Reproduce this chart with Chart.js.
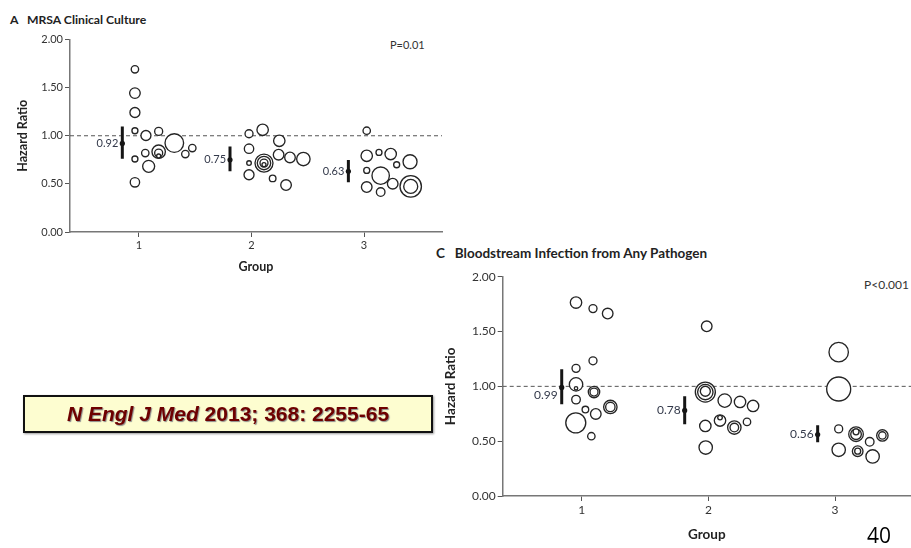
<!DOCTYPE html>
<html>
<head>
<meta charset="utf-8">
<script src="https://cdn.jsdelivr.net/npm/chart.js@4/dist/chart.umd.min.js"></script>
<style>
  html, body { margin: 0; padding: 0; background: #fff; }
  #page { position: relative; width: 911px; height: 548px; overflow: hidden; background: #fff; font-family: Lato, "Open Sans", sans-serif; }
  canvas { position: absolute; }
  .ttl { position: absolute; font-weight: bold; color: #222; white-space: nowrap; }
  .pv { position: absolute; color: #333; white-space: nowrap; }
  #cite { position: absolute; left: 23px; top: 395px; width: 406px; height: 34px; border: 2px solid #111; background: #fdfdd0; box-shadow: 1px 1px 2px #999;
          font-family: "Liberation Sans", Arial, sans-serif; font-weight: bold; font-size: 21px; color: #6e0000; text-align: center; line-height: 34px; text-shadow: 1px 1px 1px #8a8a8a; }
  #pg { position: absolute; left: 867px; top: 521px; font-family: "Open Sans", "Liberation Sans", sans-serif; font-size: 21px; color: #000; }
</style>
</head>
<body>
<div id="page">
  <div class="ttl" style="left:10px; top:12px; font-size:12.2px;">A&nbsp;&nbsp;&nbsp;MRSA Clinical Culture</div>
  <div class="pv" style="left:390px; top:38px; font-size:11px;">P=0.01</div>
  <div class="ttl" style="left:436px; top:245px; font-size:13.5px;">C&nbsp;&nbsp;&nbsp;Bloodstream Infection from Any Pathogen</div>
  <div class="pv" style="left:864px; top:277px; font-size:12px;">P&lt;0.001</div>
  <canvas id="cA" width="460" height="285" style="left:0; top:0;"></canvas>
  <canvas id="cC" width="481" height="308" style="left:430px; top:240px;"></canvas>
  <div id="cite"><i>N Engl J Med</i> 2013; 368: 2255-65</div>
  <div id="pg">40</div>
</div>
<script>
// ---------------- Panel A: MRSA Clinical Culture ----------------
const groupTicks = [1, 2, 3];
const yTicksLabels = ["0.00", "0.50", "1.00", "1.50", "2.00"];

const aBubbleX = [0.964,0.964,0.964,0.964,1.062,1.175,1.314,1.175,1.175,1.175,1.056,0.964,1.086,0.964,1.412,1.474,
                  1.978,2.099,1.978,1.978,1.978,2.111,2.111,2.111,2.111,2.247,2.241,2.342,2.461,2.188,2.307,
                  3.024,3.024,3.133,3.237,3.290,3.409,3.024,3.148,3.024,3.148,3.255,3.415,3.415];
const aBubbleY = [1.69,1.443,1.242,1.052,1.003,1.045,0.924,0.834,0.82,0.79,0.820,0.758,0.682,0.516,0.81,0.872,
                  1.021,1.062,0.865,0.716,0.595,0.716,0.716,0.716,0.70,0.948,0.803,0.775,0.758,0.557,0.488,
                  1.052,0.792,0.827,0.81,0.699,0.730,0.64,0.585,0.467,0.415,0.502,0.474,0.474];
const aBubbleR = [3.7,5.3,5,3,5,4,9.3,6.7,4,2,3.7,3,6,4.7,3.7,3.7,
                  4,5.7,4.7,2.3,5,9,6.7,4,2,5.7,5.3,5.3,6.7,3.3,5.3,
                  3.7,5.7,3,5.7,3,7,3,8.7,5.3,4.3,5.3,10.7,7];
const aEstX = [0.852, 1.809, 2.861];
const aEst  = [0.92, 0.75, 0.63];
const aLow  = [0.761, 0.63, 0.516];
const aHigh = [1.097, 0.889, 0.747];

// ---------------- Panel C: Bloodstream Infection ----------------
const cBubbleX = [0.955,1.089,1.205,1.089,0.955,0.955,0.955,0.955,1.097,1.097,1.029,1.111,1.226,1.226,0.953,1.076,
                  1.987,1.976,1.976,1.976,2.129,2.25,2.353,1.976,2.092,2.092,2.205,2.205,2.305,1.979,
                  3.029,3.029,3.029,3.166,3.166,3.166,3.274,3.374,3.374,3.029,3.179,3.179,3.297];
const cBubbleY = [1.764,1.709,1.664,1.233,1.164,1.018,0.982,0.879,0.948,0.948,0.788,0.748,0.812,0.812,0.667,0.545,
                  1.548,0.948,0.948,0.955,0.870,0.858,0.821,0.639,0.688,0.715,0.624,0.624,0.676,0.442,
                  1.312,0.976,0.612,0.564,0.564,0.585,0.494,0.552,0.552,0.421,0.409,0.409,0.361];
const cBubbleR = [5.7,4,5.3,4,4,6.7,1.7,4.3,5.7,4,3.3,5.3,6.7,4.7,10,3.7,
                  5.3,10,7.7,5,6.7,5.7,5.7,5.7,5.7,2.3,6.7,4.3,3.7,6.7,
                  9.7,12,4,7.3,5.3,3,4.3,5.7,3.7,6.7,5.3,3,6.7];
const cEstX = [0.842, 1.813, 2.863];
const cEst  = [0.99, 0.78, 0.56];
const cLow  = [0.836, 0.655, 0.491];
const cHigh = [1.155, 0.909, 0.645];

const refLine = 1.0;

// ---------------- helpers ----------------
const estLabelPlugin = {
  id: 'estLabels',
  afterDatasetsDraw(chart, args, opts) {
    const {ctx, scales} = chart;
    ctx.save();
    ctx.font = opts.font;
    ctx.fillStyle = opts.color;
    ctx.textAlign = 'right';
    ctx.textBaseline = 'middle';
    opts.xs.forEach((xv, i) => {
      const px = scales.x.getPixelForValue(xv) - 4;
      const py = scales.y.getPixelForValue(opts.vals[i]) + (opts.dy[i] || 0);
      ctx.fillText(opts.vals[i].toFixed(2), px, py);
    });
    ctx.restore();
  }
};

function buildChart(canvasId, cfg) {
  const bubbles = cfg.bx.map((x, i) => ({x: x, y: cfg.by[i], r: cfg.br[i]}))
                       .sort((a, b) => b.r - a.r);
  const datasets = [];
  cfg.ex.forEach((x, i) => {
    datasets.push({
      type: 'line', order: 1,
      data: [{x: x, y: cfg.lo[i]}, {x: x, y: cfg.hi[i]}],
      borderColor: '#151515', borderWidth: 3, pointRadius: 0, fill: false
    });
  });
  datasets.push({
    type: 'scatter', order: 0,
    data: cfg.ex.map((x, i) => ({x: x, y: cfg.est[i]})),
    backgroundColor: '#151515', borderColor: '#151515', pointRadius: 2.6, borderWidth: 0
  });
  datasets.push({
    type: 'bubble', order: 2,
    data: bubbles,
    backgroundColor: '#ffffff', borderColor: '#252525', borderWidth: 1.35
  });
  datasets.push({
    type: 'line', order: 3,
    data: [{x: cfg.xmin, y: refLine}, {x: cfg.xmax, y: refLine}],
    borderColor: '#555', borderWidth: 1, borderDash: [4, 3], pointRadius: 0, fill: false
  });

  const tickFont = {family: 'Lato', size: cfg.fs};
  return new Chart(document.getElementById(canvasId), {
    type: 'bubble',
    data: {datasets},
    options: {
      responsive: false, animation: false, events: [],
      layout: {padding: cfg.pad, autoPadding: false},
      plugins: {
        legend: {display: false}, tooltip: {enabled: false},
        estLabels: {xs: cfg.ex, vals: cfg.est, dy: cfg.dy, font: cfg.fs + 'px Lato', color: '#33394a'}
      },
      scales: {
        x: {
          type: 'linear', min: cfg.xmin, max: cfg.xmax,
          afterBuildTicks: s => { s.ticks = groupTicks.map(v => ({value: v})); },
          afterFit: s => { s.height = cfg.xh; },
          ticks: {color: '#333', font: tickFont, padding: 2, maxRotation: 0, callback: v => String(v)},
          grid: {drawOnChartArea: false, drawTicks: true, tickLength: 5, color: '#555', lineWidth: 1},
          border: {display: true, color: '#777', width: 1.5},
          title: {display: true, text: 'Group', color: '#222', font: {family: 'Lato', size: cfg.tfs, weight: 'bold'},
                  padding: {top: 0, bottom: cfg.xtPad}}
        },
        y: {
          type: 'linear', min: 0, max: 2,
          afterBuildTicks: s => { s.ticks = yTicksLabels.map(t => ({value: parseFloat(t)})); },
          afterFit: s => { s.width = cfg.yw; },
          ticks: {color: '#333', font: tickFont, padding: 2, callback: (v) => yTicksLabels.find(t => parseFloat(t) === v) || ''},
          grid: {drawOnChartArea: false, drawTicks: true, tickLength: 5, color: '#555', lineWidth: 1},
          border: {display: true, color: '#777', width: 1.5},
          title: {display: true, text: 'Hazard Ratio', color: '#222', font: {family: 'Lato', size: cfg.tfs, weight: 'bold'},
                  padding: {top: cfg.ytPad, bottom: 0}}
        }
      }
    },
    plugins: [estLabelPlugin]
  });
}

buildChart('cA', {
  bx: aBubbleX, by: aBubbleY, br: aBubbleR,
  ex: aEstX, est: aEst, lo: aLow, hi: aHigh, dy: [0, 0, 0],
  xmin: 0.387, xmax: 3.693, fs: 11, tfs: 12.5,
  pad: {left: 0, top: 39.5, right: 18, bottom: 0},
  xh: 53, yw: 70, xtPad: 10.5, ytPad: 15.5
});

buildChart('cC', {
  bx: cBubbleX, by: cBubbleY, br: cBubbleR,
  ex: cEstX, est: cEst, lo: cLow, hi: cHigh, dy: [8, 0, 0],
  xmin: 0.376, xmax: 3.6, fs: 12, tfs: 13.5,
  pad: {left: 0, top: 36.7, right: 0, bottom: 0},
  xh: 52, yw: 72.7, xtPad: 5.5, ytPad: 12.5
});
</script>
</body>
</html>
